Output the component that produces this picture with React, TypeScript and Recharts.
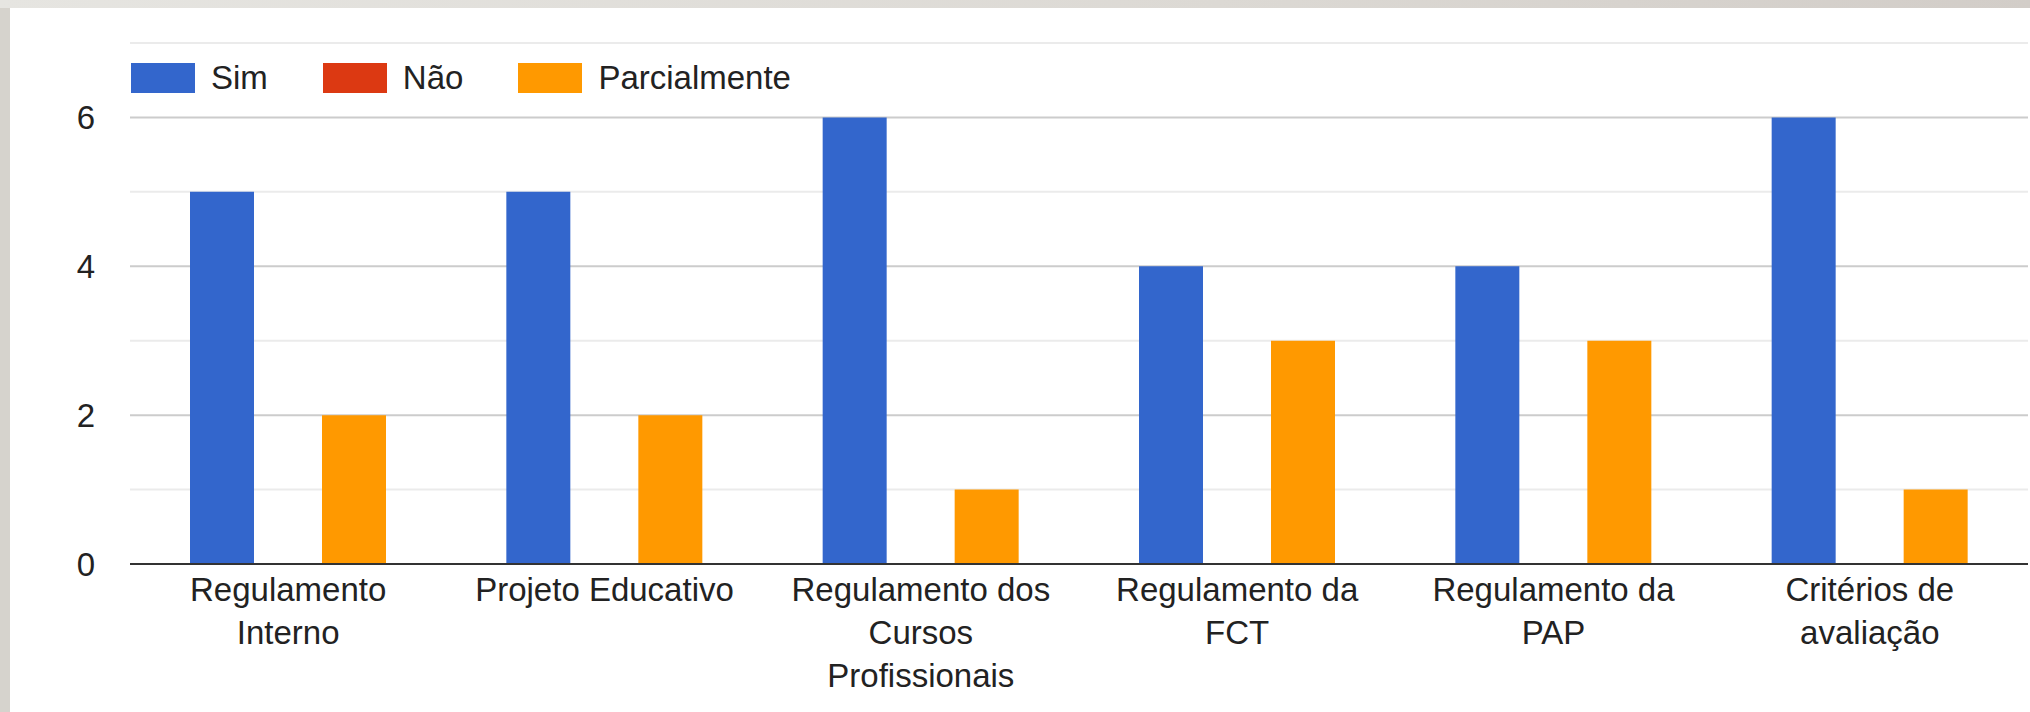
import {
    BarChart,
    Bar,
    XAxis,
    YAxis,
    CartesianGrid,
} from "recharts";

const categories = [
    "Regulamento Interno",
    "Projeto Educativo",
    "Regulamento dos Cursos Profissionais",
    "Regulamento da FCT",
    "Regulamento da PAP",
    "Critérios de avaliação",
];
// the same labels, broken into lines the way the original chart wraps them
const tickLabelLines = [
    ["Regulamento", "Interno"],
    ["Projeto Educativo"],
    ["Regulamento dos", "Cursos", "Profissionais"],
    ["Regulamento da", "FCT"],
    ["Regulamento da", "PAP"],
    ["Critérios de", "avaliação"],
];
const sim = [5, 5, 6, 4, 4, 6];
const nao = [0, 0, 0, 0, 0, 0];
const parcialmente = [2, 2, 1, 3, 3, 1];

const yTicks = [0, 2, 4, 6];
const majorGrid = [2, 4, 6];
const minorGrid = [1, 3, 5, 7];

const series = [
    { key: "sim", name: "Sim", color: "#3366cc" },
    { key: "nao", name: "Não", color: "#dc3912" },
    { key: "parcialmente", name: "Parcialmente", color: "#ff9900" },
];

const FONT = "'Liberation Sans', Arial, sans-serif";
const TEXT_COLOR = "#222222";

const data = categories.map((name, i) => ({
    name,
    sim: sim[i],
    nao: nao[i],
    parcialmente: parcialmente[i],
}));

const CategoryTick = (props: any) => {
    const { x, y, payload } = props;
    const idx = categories.indexOf(payload.value);
    const lines = idx >= 0 ? tickLabelLines[idx] : [String(payload.value)];
    return (
        <text
            x={x}
            y={y + 23}
            textAnchor="middle"
            fill={TEXT_COLOR}
            style={{ fontSize: 33, fontFamily: FONT }}
        >
            {lines.map((line, i) => (
                <tspan key={i} x={x} dy={i === 0 ? 0 : 43}>
                    {line}
                </tspan>
            ))}
        </text>
    );
};

const App = () => {
    return (
        <div
            style={{
                position: "absolute",
                top: 0,
                left: 0,
                width: 2030,
                height: 712,
                background: "#d6d3cd",
                overflow: "hidden",
            }}
        >
            {/* top strip is a bit lighter on the left */}
            <div
                style={{
                    position: "absolute",
                    top: 0,
                    left: 0,
                    width: 2030,
                    height: 8,
                    background: "linear-gradient(to right, #e6e5e1, #dcd9d4 60%, #d2cdc8)",
                }}
            />
            <div
                style={{
                    position: "absolute",
                    top: 8,
                    left: 10,
                    width: 2020,
                    height: 704,
                    background: "#ffffff",
                }}
            />
            <div style={{ position: "absolute", top: 0, left: 0 }}>
                <BarChart
                    width={2030}
                    height={712}
                    data={data}
                    margin={{ top: 43, right: 2, left: 70, bottom: 18 }}
                    barSize={64}
                    barGap={2}
                >
                    <CartesianGrid
                        vertical={false}
                        horizontalValues={minorGrid}
                        stroke="#ebebeb"
                        strokeWidth={2}
                    />
                    <CartesianGrid
                        vertical={false}
                        horizontalValues={majorGrid}
                        stroke="#cccccc"
                        strokeWidth={2}
                    />
                    <XAxis
                        dataKey="name"
                        height={130}
                        interval={0}
                        tickLine={false}
                        tickSize={6}
                        tickMargin={8}
                        axisLine={{ stroke: "#333333", strokeWidth: 2 }}
                        tick={<CategoryTick />}
                    />
                    <YAxis
                        width={60}
                        domain={[0, 7]}
                        ticks={yTicks}
                        axisLine={false}
                        tickLine={false}
                        tickSize={0}
                        tickMargin={35}
                        tick={{ fill: TEXT_COLOR, fontSize: 33, fontFamily: FONT }}
                    />
                    {series.map((s) => (
                        <Bar
                            key={s.key}
                            dataKey={s.key}
                            name={s.name}
                            fill={s.color}
                            isAnimationActive={false}
                        />
                    ))}
                </BarChart>
            </div>
            <div
                style={{
                    position: "absolute",
                    top: 63,
                    left: 131,
                    display: "flex",
                    alignItems: "center",
                    fontFamily: FONT,
                    fontSize: 33,
                    color: TEXT_COLOR,
                    lineHeight: "30px",
                }}
            >
                {series.map((s) => (
                    <div key={s.key} style={{ display: "flex", alignItems: "center", marginRight: 55 }}>
                        <div style={{ width: 64, height: 30, background: s.color, marginRight: 16 }} />
                        <span>{s.name}</span>
                    </div>
                ))}
            </div>
        </div>
    );
};

export default App;
